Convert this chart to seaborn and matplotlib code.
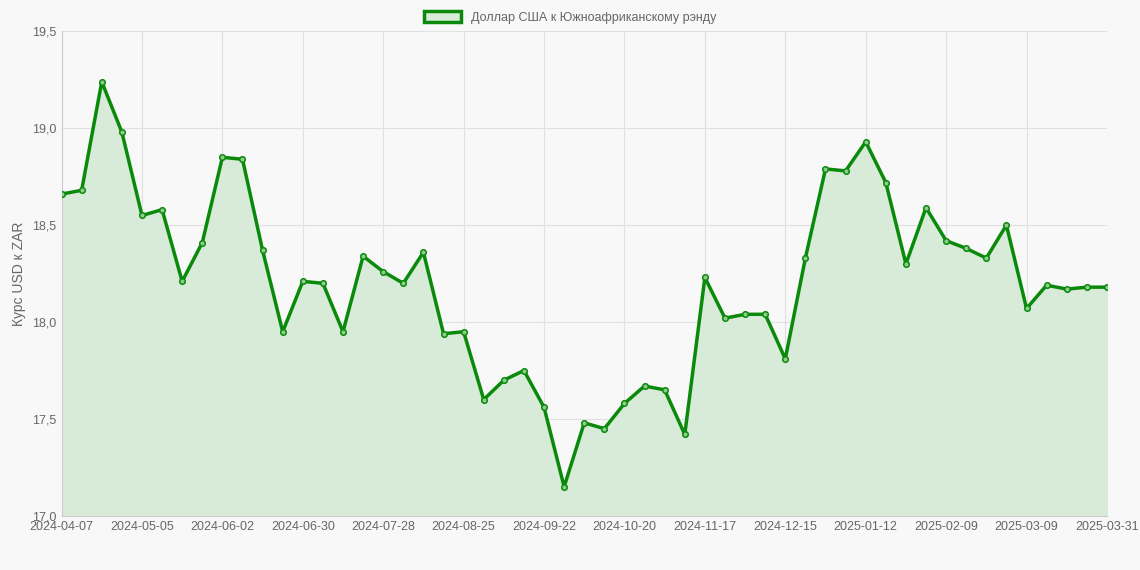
import matplotlib
matplotlib.use("Agg")
import matplotlib.pyplot as plt
import seaborn as sns
import numpy as np
from matplotlib.patches import Patch

rates = [18.66, 18.68, 19.24, 18.98, 18.55, 18.58, 18.21, 18.41, 18.85, 18.84,
         18.37, 17.95, 18.21, 18.20, 17.95, 18.34, 18.26, 18.20, 18.36, 17.94,
         17.95, 17.60, 17.70, 17.75, 17.56, 17.15, 17.48, 17.45, 17.58, 17.67,
         17.65, 17.42, 18.23, 18.02, 18.04, 18.04, 17.81, 18.33, 18.79, 18.78,
         18.93, 18.72, 18.30, 18.59, 18.42, 18.38, 18.33, 18.50, 18.07, 18.19,
         18.17, 18.18, 18.18]
tick_idx = [0, 4, 8, 12, 16, 20, 24, 28, 32, 36, 40, 44, 48, 52]
tick_labels = ["2024-04-07", "2024-05-05", "2024-06-02", "2024-06-30", "2024-07-28",
               "2024-08-25", "2024-09-22", "2024-10-20", "2024-11-17", "2024-12-15",
               "2025-01-12", "2025-02-09", "2025-03-09", "2025-03-31"]
label = "Доллар США к Южноафриканскому рэнду"

sns.set_style("whitegrid")
plt.rcParams['font.family'] = ['Liberation Sans', 'DejaVu Sans']
fig, ax = plt.subplots(figsize=(11.4, 5.7), dpi=100)
fig.patch.set_facecolor("#f8f8f8")
ax.set_facecolor("#f8f8f8")

x = np.arange(len(rates))
green = "#0a8a0a"
ax.fill_between(x, 17.0, rates, color="#d8ebd8", zorder=1)
sns.lineplot(x=x, y=rates, ax=ax, color=green, linewidth=2.5, zorder=3)
ax.scatter(x, rates, s=16, facecolor="#8fcc8f", edgecolor=green, linewidth=1.1, zorder=4)

ax.set_xlim(0, len(rates) - 1)
ax.set_ylim(17.0, 19.5)
ax.set_xticks(tick_idx)
ax.set_xticklabels(tick_labels)
yt = np.arange(17.0, 19.51, 0.5)
ax.set_yticks(yt)
ax.set_yticklabels([f"{v:.1f}".replace(".", ",") for v in yt])
ax.tick_params(colors="#666666", labelsize=9, length=0, pad=4)
ax.grid(True, color="#e0e0e0", linewidth=0.8)
for s in ax.spines.values():
    s.set_visible(False)
ax.spines["left"].set_visible(True)
ax.spines["bottom"].set_visible(True)
ax.spines["left"].set_color("#cccccc")
ax.spines["bottom"].set_color("#cccccc")
ax.set_ylabel("Курс USD к ZAR", color="#666666", fontsize=10)

handle = Patch(facecolor="#d8ebd8", edgecolor=green, linewidth=2.5)
fig.legend([handle], [label], loc="upper center", bbox_to_anchor=(0.5, 1.0),
           frameon=False, fontsize=9, labelcolor="#666666",
           handlelength=3.0, handleheight=0.9)

fig.subplots_adjust(left=0.054, right=0.971, top=0.945, bottom=0.095)
fig.savefig("out.png", dpi=100, facecolor=fig.get_facecolor())
